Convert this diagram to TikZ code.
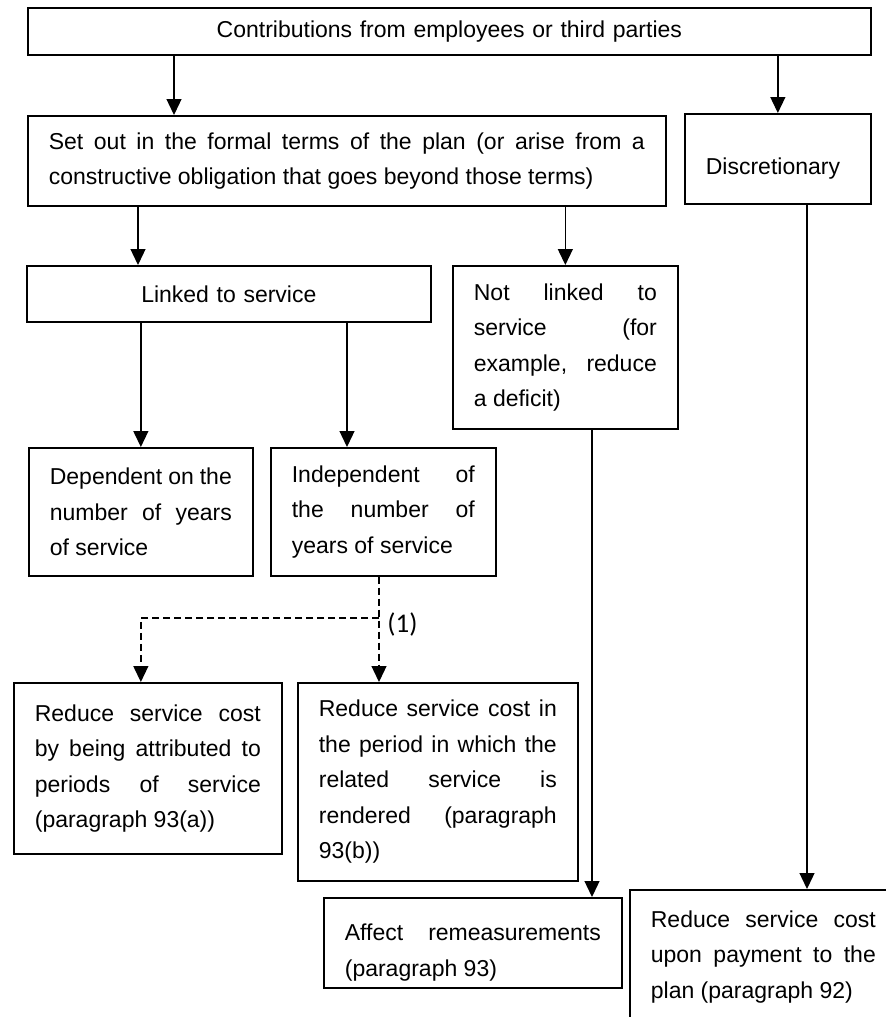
\documentclass[tikz,border=0pt]{standalone}
\usepackage{fontspec}
\setmainfont{Liberation Sans}
\newfontfamily\noteFont{Carlito}
\usetikzlibrary{arrows.meta}
\hyphenpenalty=10000
\exhyphenpenalty=10000

\begin{document}
\begin{tikzpicture}[
    x=0.5pt, y=-0.5pt,
    >={Triangle[length=8pt, width=7.5pt]},
    card/.style={draw, line width=0.85pt, anchor=north west, inner xsep=10.5pt, inner ysep=2pt,
        align=justify, font=\fontsize{11.5}{17.75}\selectfont},
    flow/.style={->, line width=0.65pt},
    maybe flow/.style={flow, dash pattern=on 3.5pt off 2pt},
    ]

    \def\dropline{\rule{0pt}{18pt}}   % pushes a first line down

    \useasboundingbox (0,0) rectangle (886,1017);
    \clip (0,0) rectangle (886,1017);

    % boxes
    \node[card, text width=400.5pt, align=center, minimum height=23.5pt] (contrib) at (27,7)
        {Contributions from employees or third parties};
    \node[card, text width=298pt, minimum height=45pt] (setout) at (27,115)
        {Set out in the formal terms of the plan (or arise from a\linebreak constructive obligation that goes beyond those terms)};
    \node[card, text width=72pt, minimum height=45pt] (discr) at (684,113) {\dropline Discretionary};
    \node[card, text width=181pt, align=center, minimum height=28pt] (linked) at (26,265) {Linked to service};
    \node[card, text width=91.5pt, minimum height=81.5pt] (notlinked) at (452,265)
        {Not linked to\linebreak service (for\linebreak example, reduce\linebreak a deficit)};
    \node[card, text width=91pt, minimum height=64pt] (dep) at (28,447)
        {Dependent on the\linebreak number of years\linebreak of service};
    \node[card, text width=91.5pt, minimum height=64pt] (indep) at (270,447)
        {Independent of\linebreak the number of\linebreak years of service};
    \node[card, text width=113pt, minimum height=85.5pt] (reda) at (13,682)
        {Reduce service cost\linebreak by being attributed to\linebreak periods of service\linebreak (paragraph 93(a))};
    \node[card, text width=119pt, minimum height=99pt] (redb) at (297,682)
        {Reduce service cost in\linebreak the period in which the\linebreak related service is\linebreak rendered (paragraph\linebreak 93(b))};
    \node[card, text width=128pt, minimum height=45pt] (remeas) at (323,897)
        {\dropline Affect remeasurements\linebreak (paragraph 93)};
    \node[card, text width=112.5pt, minimum height=67pt] (payment) at (629,889)
        {Reduce service cost\linebreak upon payment to the\linebreak plan (paragraph 92)};

    % connectors
    \draw[flow] (contrib.south -| 174,0) -- (setout.north -| 174,0);
    \draw[flow] (contrib.south -| discr.north) -- (discr.north);
    \draw[flow] (setout.south -| 138,0) -- (linked.north -| 138,0);
    \draw[flow] (setout.south -| notlinked.north) -- (notlinked.north);
    \draw[flow] (linked.south -| dep.north) -- (dep.north);
    \draw[flow] (linked.south -| 347,0) -- (indep.north -| 347,0);

    \coordinate (split) at (379,618);
    \draw[maybe flow] (indep.south -| split) -- (redb.north -| split);
    \draw[maybe flow] (split) -| (reda.north -| dep.south);
    \node[font=\noteFont\fontsize{13.5}{16}\selectfont, anchor=west, inner sep=0pt] (note) at (387,624) {(1)};

    \draw[flow] (notlinked.south -| 592,0) -- (remeas.north -| 592,0);
    \draw[flow] (discr.south -| 807,0) -- (payment.north -| 807,0);

\end{tikzpicture}
\end{document}
